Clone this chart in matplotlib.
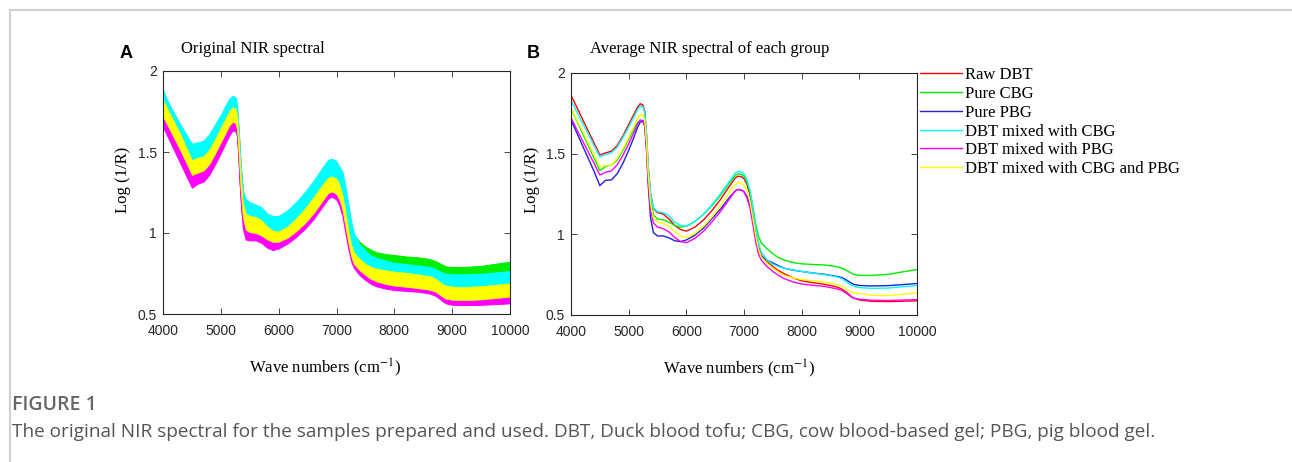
import numpy as np
import matplotlib
matplotlib.use('Agg')
import matplotlib.pyplot as plt
from matplotlib.lines import Line2D

wn = [4000, 4100, 4200, 4300, 4400, 4500, 4600, 4700, 4800, 4900, 5000, 5100, 5150, 5200, 5250, 5280,
      5310, 5340, 5380, 5430, 5500, 5600, 5700, 5800, 5900, 6000, 6150, 6300, 6450, 6600, 6750, 6850,
      6900, 6950, 7000, 7050, 7100, 7150, 7200, 7250, 7300, 7400, 7500, 7600, 7700, 7850, 8000, 8200,
      8400, 8600, 8700, 8800, 8850, 8900, 9000, 9200, 9500, 10000]

# panel B: average spectrum of each group
raw_dbt = [1.862, 1.788, 1.714, 1.64, 1.566, 1.492, 1.505, 1.515, 1.55, 1.61, 1.68, 1.75, 1.785, 1.81, 1.80, 1.76,
           1.62, 1.42, 1.25, 1.16, 1.135, 1.125, 1.095, 1.055, 1.03, 1.02, 1.045, 1.09, 1.15, 1.22, 1.30, 1.35,
           1.36, 1.358, 1.345, 1.31, 1.25, 1.15, 1.03, 0.93, 0.87, 0.83, 0.80, 0.775, 0.755, 0.73, 0.712, 0.70,
           0.69, 0.675, 0.66, 0.635, 0.618, 0.605, 0.593, 0.585, 0.583, 0.588]
pure_cbg = [1.78, 1.703, 1.626, 1.549, 1.472, 1.395, 1.42, 1.43, 1.46, 1.52, 1.59, 1.66, 1.69, 1.708, 1.70, 1.67,
            1.55, 1.38, 1.22, 1.12, 1.095, 1.09, 1.075, 1.055, 1.045, 1.05, 1.08, 1.125, 1.18, 1.245, 1.32, 1.365,
            1.375, 1.372, 1.36, 1.325, 1.27, 1.18, 1.07, 0.99, 0.947, 0.91, 0.88, 0.855, 0.84, 0.825, 0.817, 0.813,
            0.81, 0.80, 0.79, 0.772, 0.762, 0.752, 0.746, 0.745, 0.752, 0.782]
pure_pbg = [1.708, 1.63, 1.55, 1.47, 1.39, 1.302, 1.335, 1.337, 1.375, 1.44, 1.52, 1.61, 1.66, 1.695, 1.70, 1.67,
            1.52, 1.30, 1.10, 1.01, 0.99, 0.99, 0.978, 0.96, 0.955, 0.965, 0.995, 1.04, 1.10, 1.16, 1.23, 1.27,
            1.278, 1.275, 1.265, 1.235, 1.19, 1.11, 1.00, 0.91, 0.865, 0.84, 0.823, 0.805, 0.79, 0.778, 0.77, 0.76,
            0.752, 0.74, 0.732, 0.712, 0.70, 0.69, 0.683, 0.68, 0.682, 0.695]
dbt_cbg = [1.83, 1.76, 1.69, 1.62, 1.55, 1.48, 1.495, 1.505, 1.54, 1.60, 1.665, 1.735, 1.77, 1.795, 1.79, 1.75,
           1.62, 1.42, 1.25, 1.165, 1.14, 1.135, 1.115, 1.075, 1.055, 1.05, 1.08, 1.125, 1.185, 1.255, 1.33, 1.38,
           1.39, 1.388, 1.375, 1.34, 1.28, 1.17, 1.05, 0.95, 0.89, 0.84, 0.815, 0.80, 0.79, 0.78, 0.77, 0.76,
           0.75, 0.737, 0.725, 0.70, 0.688, 0.678, 0.67, 0.665, 0.667, 0.683]
dbt_pbg = [1.724, 1.65, 1.58, 1.51, 1.44, 1.368, 1.385, 1.393, 1.43, 1.49, 1.56, 1.64, 1.68, 1.708, 1.705, 1.67,
           1.53, 1.33, 1.15, 1.07, 1.045, 1.035, 1.015, 0.98, 0.955, 0.948, 0.975, 1.02, 1.08, 1.145, 1.22, 1.27,
           1.278, 1.275, 1.262, 1.225, 1.17, 1.07, 0.96, 0.88, 0.84, 0.80, 0.77, 0.745, 0.725, 0.705, 0.692, 0.684,
           0.677, 0.663, 0.652, 0.628, 0.614, 0.604, 0.598, 0.592, 0.59, 0.595]
dbt_cbg_pbg = [1.78, 1.71, 1.64, 1.565, 1.49, 1.42, 1.425, 1.43, 1.47, 1.53, 1.60, 1.675, 1.715, 1.743, 1.74, 1.705,
               1.57, 1.37, 1.19, 1.10, 1.075, 1.068, 1.05, 1.015, 0.99, 0.98, 1.005, 1.05, 1.11, 1.18, 1.26, 1.31,
               1.321, 1.318, 1.305, 1.27, 1.21, 1.11, 1.00, 0.91, 0.86, 0.82, 0.79, 0.765, 0.745, 0.73, 0.72, 0.712,
               0.705, 0.69, 0.678, 0.655, 0.645, 0.638, 0.635, 0.622, 0.62, 0.637]

# panel A: envelope of all spectra per group (upper / lower edge of each colour band)
cbg_hi = [1.81, 1.74, 1.67, 1.60, 1.52, 1.44, 1.46, 1.47, 1.51, 1.57, 1.64, 1.71, 1.74, 1.76, 1.76, 1.72,
          1.56, 1.36, 1.18, 1.12, 1.10, 1.095, 1.08, 1.04, 1.02, 1.02, 1.05, 1.10, 1.16, 1.23, 1.31, 1.36,
          1.37, 1.37, 1.36, 1.33, 1.28, 1.20, 1.10, 1.03, 0.99, 0.945, 0.915, 0.895, 0.88, 0.87, 0.864, 0.855,
          0.85, 0.84, 0.828, 0.81, 0.80, 0.793, 0.79, 0.79, 0.797, 0.823]
cbg_lo = [1.77, 1.70, 1.63, 1.56, 1.48, 1.40, 1.42, 1.43, 1.47, 1.53, 1.60, 1.67, 1.70, 1.72, 1.72, 1.68,
          1.52, 1.32, 1.14, 1.08, 1.06, 1.055, 1.04, 1.00, 0.98, 0.98, 1.01, 1.06, 1.12, 1.19, 1.27, 1.32,
          1.33, 1.33, 1.32, 1.29, 1.24, 1.15, 1.05, 0.97, 0.93, 0.89, 0.86, 0.84, 0.825, 0.812, 0.805, 0.798,
          0.792, 0.782, 0.772, 0.755, 0.745, 0.738, 0.735, 0.735, 0.74, 0.752]
mixc_hi = [1.883, 1.80, 1.735, 1.67, 1.61, 1.55, 1.56, 1.57, 1.61, 1.67, 1.73, 1.80, 1.83, 1.846, 1.84, 1.80,
           1.62, 1.43, 1.26, 1.21, 1.19, 1.175, 1.16, 1.12, 1.105, 1.105, 1.14, 1.19, 1.25, 1.32, 1.40, 1.45,
           1.457, 1.455, 1.44, 1.41, 1.38, 1.30, 1.19, 1.08, 1.00, 0.93, 0.89, 0.86, 0.845, 0.83, 0.815, 0.808,
           0.80, 0.79, 0.78, 0.76, 0.752, 0.748, 0.745, 0.745, 0.748, 0.765]
mixc_lo = [1.82, 1.75, 1.68, 1.61, 1.53, 1.45, 1.465, 1.475, 1.515, 1.58, 1.65, 1.72, 1.755, 1.775, 1.77, 1.73,
           1.57, 1.37, 1.19, 1.12, 1.105, 1.10, 1.08, 1.04, 1.015, 1.01, 1.04, 1.09, 1.15, 1.22, 1.295, 1.34,
           1.348, 1.345, 1.335, 1.30, 1.24, 1.14, 1.03, 0.93, 0.88, 0.84, 0.81, 0.79, 0.78, 0.77, 0.762, 0.755,
           0.745, 0.735, 0.72, 0.695, 0.682, 0.675, 0.669, 0.667, 0.672, 0.689]
mixcp_lo = [1.718, 1.65, 1.58, 1.51, 1.435, 1.358, 1.372, 1.385, 1.425, 1.49, 1.56, 1.63, 1.665, 1.685, 1.68, 1.64,
            1.48, 1.28, 1.10, 1.02, 1.005, 1.0, 0.985, 0.96, 0.945, 0.946, 0.97, 1.01, 1.06, 1.12, 1.195, 1.245,
            1.255, 1.252, 1.24, 1.205, 1.15, 1.05, 0.95, 0.86, 0.81, 0.77, 0.74, 0.715, 0.70, 0.685, 0.675, 0.668,
            0.66, 0.65, 0.64, 0.615, 0.602, 0.594, 0.588, 0.585, 0.59, 0.607]
mixp_lo = [1.656, 1.58, 1.505, 1.43, 1.355, 1.28, 1.305, 1.317, 1.36, 1.425, 1.495, 1.57, 1.605, 1.632, 1.63, 1.60,
           1.44, 1.22, 1.03, 0.96, 0.955, 0.955, 0.94, 0.91, 0.895, 0.905, 0.935, 0.975, 1.025, 1.085, 1.16, 1.21,
           1.222, 1.22, 1.205, 1.17, 1.11, 1.01, 0.91, 0.83, 0.785, 0.74, 0.71, 0.685, 0.67, 0.657, 0.648, 0.643,
           0.638, 0.628, 0.615, 0.59, 0.575, 0.565, 0.557, 0.555, 0.557, 0.566]

labels = ['Raw DBT', 'Pure CBG', 'Pure PBG', 'DBT mixed with CBG', 'DBT mixed with PBG',
          'DBT mixed with CBG and PBG']
colors = ['#ff0000', '#00ee00', '#2020dd', '#00ffff', '#ff00ff', '#ffff00']

serif = ['Liberation Serif', 'DejaVu Serif']
plt.rcParams['font.family'] = ['Liberation Sans', 'DejaVu Sans']
plt.rcParams['mathtext.fontset'] = 'stix'

fig = plt.figure(figsize=(12.92, 4.62), dpi=100)

# outer frame of the figure box
fig.add_artist(Line2D([10/1292, 1], [1 - 10/462, 1 - 10/462], color='#d0d0d0', lw=1.5))
fig.add_artist(Line2D([10/1292, 10/1292], [0, 1 - 10/462], color='#d0d0d0', lw=1.5))

axA = fig.add_axes([163/1292, 1 - 314/462, 347/1292, 243/462])
axB = fig.add_axes([571/1292, 1 - 315/462, 346/1292, 242/462])

x = np.array(wn)

# panel A - bands drawn in plotting order (same zorder so order counts)
axA.plot(x, raw_dbt, color=colors[0], lw=1.5, zorder=2)
axA.fill_between(x, cbg_lo, cbg_hi, color=colors[1], lw=0.8, edgecolor=colors[1], zorder=2)
axA.plot(x, pure_pbg, color=colors[2], lw=1.2, zorder=2)
axA.fill_between(x, mixc_lo, mixc_hi, color=colors[3], lw=0.8, edgecolor=colors[3], zorder=2)
axA.fill_between(x, mixp_lo, mixcp_lo, color=colors[4], lw=0.8, edgecolor=colors[4], zorder=2)
axA.fill_between(x, mixcp_lo, mixc_lo, color=colors[5], lw=0.5, edgecolor=colors[5], zorder=2)

# panel B - averages
series = [raw_dbt, pure_cbg, pure_pbg, dbt_cbg, dbt_pbg, dbt_cbg_pbg]
for y, c, lab in zip(series, colors, labels):
    axB.plot(x, y, color=c, lw=1.0, label=lab)

for ax in (axA, axB):
    ax.set_xlim(4000, 10000)
    ax.set_ylim(0.5, 2)
    ax.set_xticks([4000, 5000, 6000, 7000, 8000, 9000, 10000])
    ax.set_yticks([0.5, 1, 1.5, 2])
    ax.set_yticklabels(['0.5', '1', '1.5', '2'])
    ax.tick_params(direction='in', length=4, width=0.6, top=True, right=True,
                   labelsize=10, colors='#262626')
    ax.tick_params(axis='x', pad=7)
    ax.tick_params(axis='y', pad=4.5)
    for s in ax.spines.values():
        s.set_color('#262626')
        s.set_linewidth(0.8)
    ax.set_ylabel('Log (1/R)', family=serif, fontsize=12)
    ax.set_xlabel('Wave numbers (cm$^{-1}$)', family=serif, fontsize=12)

axA.yaxis.set_label_coords(-0.092, 0.551)
axB.yaxis.set_label_coords(-0.090, 0.558)
axA.xaxis.set_label_coords(0.467, -0.177)
axB.xaxis.set_label_coords(0.486, -0.174)

fig.text(181/1292, 1 - 49/462, 'Original NIR spectral', family=serif, fontsize=12, va='center')
fig.text(590/1292, 1 - 49/462, 'Average NIR spectral of each group', family=serif, fontsize=12, va='center')
fig.text(120/1292, 1 - 53/462, 'A', fontsize=13, fontweight='bold', va='center')
fig.text(527/1292, 1 - 53/462, 'B', fontsize=13, fontweight='bold', va='center')

fig.legend(*axB.get_legend_handles_labels(), loc='upper left', bbox_to_anchor=(920/1292, 1 - 67/462),
           frameon=False, borderpad=0, borderaxespad=0, handlelength=2.5, handletextpad=0.18,
           labelspacing=0.17, prop={'family': serif, 'size': 12})

fig.text(12/1292, 1 - 405/462, 'FIGURE 1', family=['Open Sans', 'DejaVu Sans'], fontsize=14,
         fontweight='semibold', color='#666666', va='center')
fig.text(12/1292, 1 - 432/462,
         'The original NIR spectral for the samples prepared and used. DBT, Duck blood tofu; '
         'CBG, cow blood-based gel; PBG, pig blood gel.',
         family=['Open Sans', 'DejaVu Sans'], fontsize=13.7, color='#555555', va='center')

fig.savefig('out.png', dpi=100)
